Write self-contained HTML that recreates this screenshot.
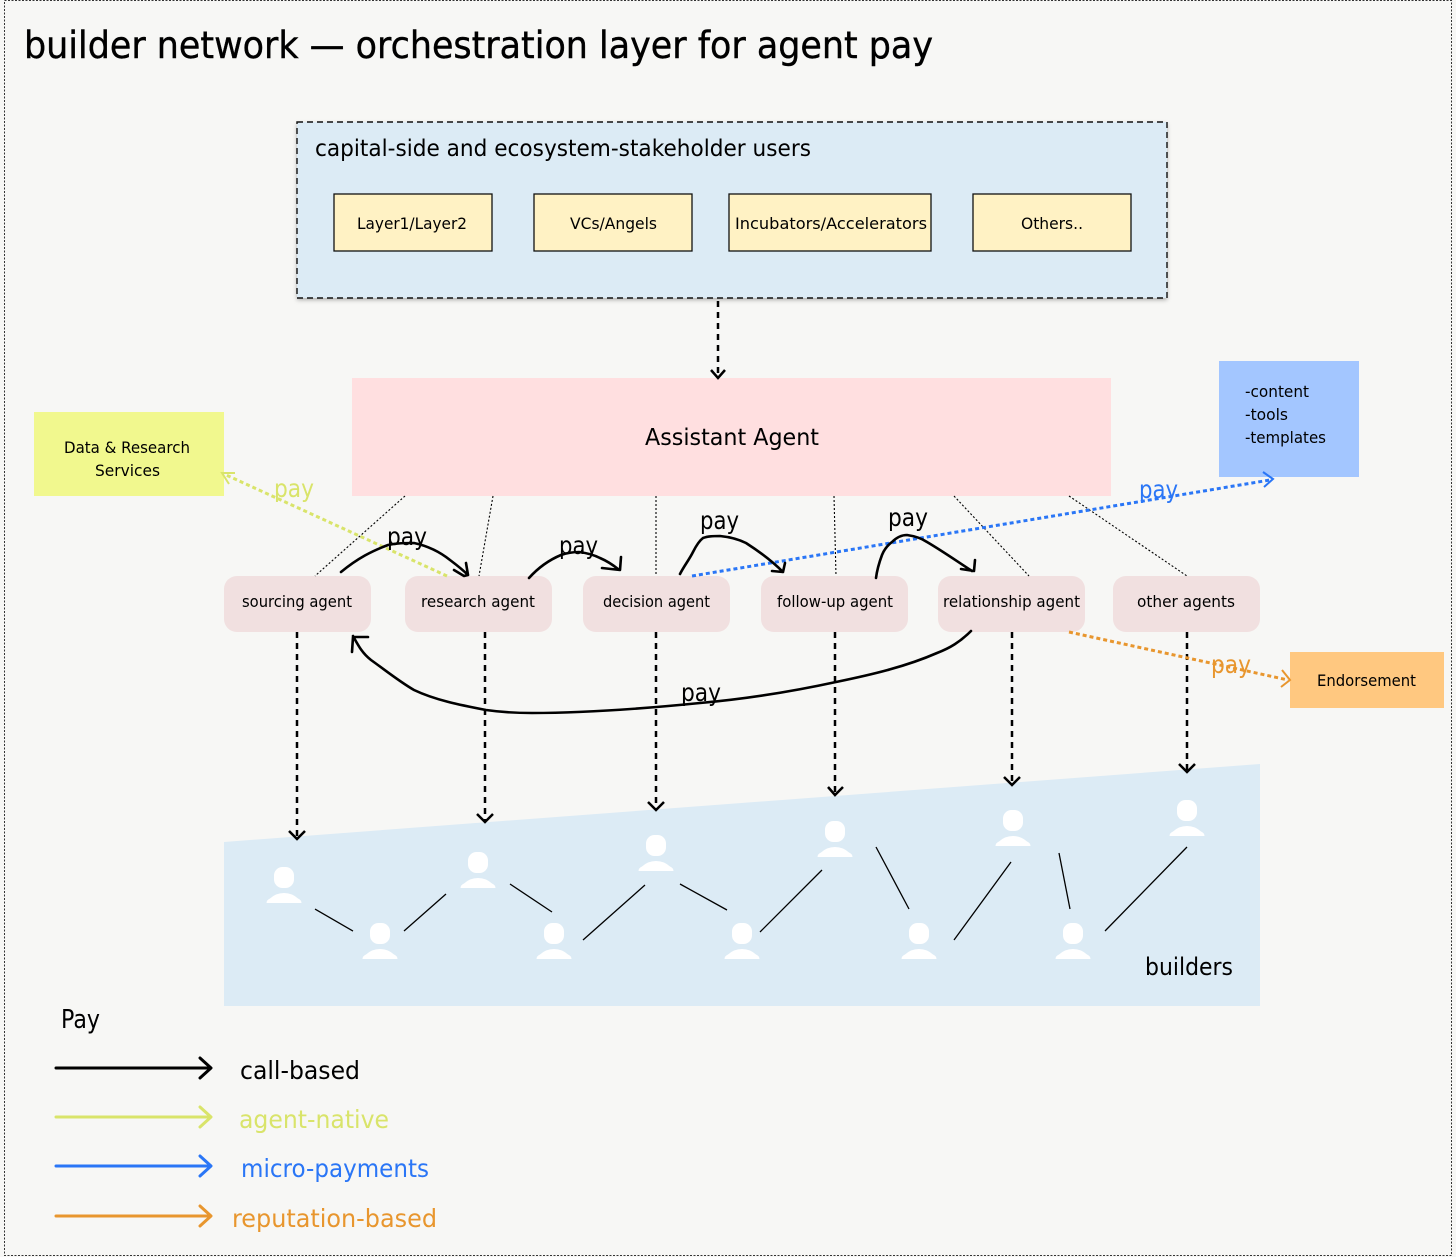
<!DOCTYPE html>
<html><head><meta charset="utf-8"><style>
html,body{margin:0;padding:0;background:#fff}
svg{display:block}
text{font-family:"DejaVu Sans","Liberation Sans",sans-serif;fill:#000}
.pay{font-size:25px}
</style></head><body>
<svg width="1456" height="1257" viewBox="0 0 1456 1257" xmlns="http://www.w3.org/2000/svg">
<defs>
<filter id="s" x="-5%" y="-5%" width="110%" height="115%"><feDropShadow dx="0" dy="2" stdDeviation="2" flood-color="#000" flood-opacity=".3"/></filter>
<g id="p"><rect x="-10" y="0" width="20" height="21" rx="8.5" fill="#fff"/><path d="M-17.5 36Q-17.5 33-14 31.500Q-8 26 0 26Q8 26 14 31.500Q17.500 33 17.500 36Z" fill="#fff"/></g>
</defs>
<rect width="1456" height="1257" fill="#f7f7f5"/>
<rect x="4.500" y="0.500" width="1447" height="1255" fill="none" stroke="#333" stroke-width="1" stroke-dasharray="2 1.500"/>
<text x="24" y="58" font-size="37" textLength="909" lengthAdjust="spacingAndGlyphs" stroke="#000" stroke-width=".4">builder network — orchestration layer for agent pay</text>

<rect x="297" y="122" width="870" height="176" fill="#dcebf5" filter="url(#s)"/>
<rect x="297" y="122" width="870" height="176" fill="none" stroke="#111" stroke-width="1.400" stroke-dasharray="6 4"/>
<text x="315" y="156" font-size="23" textLength="496" lengthAdjust="spacingAndGlyphs">capital-side and ecosystem-stakeholder users</text>
<g fill="#fff2c4" stroke="#111" stroke-width="1.300">
<rect x="334" y="194" width="158" height="57"/><rect x="534" y="194" width="158" height="57"/><rect x="729" y="194" width="202" height="57"/><rect x="973" y="194" width="158" height="57"/>
</g>
<text x="357" y="229" font-size="16" textLength="110" lengthAdjust="spacingAndGlyphs">Layer1/Layer2</text>
<text x="570" y="229" font-size="16" textLength="87" lengthAdjust="spacingAndGlyphs">VCs/Angels</text>
<text x="735" y="229" font-size="16" textLength="192" lengthAdjust="spacingAndGlyphs">Incubators/Accelerators</text>
<text x="1021" y="229" font-size="16" textLength="62" lengthAdjust="spacingAndGlyphs">Others..</text>

<rect x="352" y="378" width="759" height="118" fill="#ffdfe0"/>
<text x="645" y="445" font-size="23" textLength="174" lengthAdjust="spacingAndGlyphs">Assistant Agent</text>

<rect x="34" y="412" width="190" height="84" fill="#f1f88e"/>
<text x="64" y="453" font-size="16" textLength="126" lengthAdjust="spacingAndGlyphs">Data &amp; Research</text>
<text x="95" y="476" font-size="16" textLength="65" lengthAdjust="spacingAndGlyphs">Services</text>

<rect x="1219" y="361" width="140" height="116" fill="#a3c6ff"/>
<text x="1245" y="397" font-size="16" textLength="64" lengthAdjust="spacingAndGlyphs">-content</text>
<text x="1245" y="420" font-size="16" textLength="43" lengthAdjust="spacingAndGlyphs">-tools</text>
<text x="1245" y="443" font-size="16" textLength="81" lengthAdjust="spacingAndGlyphs">-templates</text>

<rect x="1290" y="652" width="154" height="56" fill="#ffc880"/>
<text x="1317" y="686" font-size="16" textLength="99" lengthAdjust="spacingAndGlyphs">Endorsement</text>

<polygon points="224,842 1260,764 1260,1006 224,1006" fill="#dcebf5"/>
<text x="1145" y="975" font-size="24" textLength="88" lengthAdjust="spacingAndGlyphs">builders</text>

<g fill="#f1e0e0">
<rect x="224" y="576" width="147" height="56" rx="13"/><rect x="405" y="576" width="147" height="56" rx="13"/><rect x="583" y="576" width="147" height="56" rx="13"/><rect x="761" y="576" width="147" height="56" rx="13"/><rect x="938" y="576" width="147" height="56" rx="13"/><rect x="1113" y="576" width="147" height="56" rx="13"/>
</g>
<text x="242" y="607" font-size="16" textLength="110" lengthAdjust="spacingAndGlyphs">sourcing agent</text>
<text x="421" y="607" font-size="16" textLength="114" lengthAdjust="spacingAndGlyphs">research agent</text>
<text x="603" y="607" font-size="16" textLength="107" lengthAdjust="spacingAndGlyphs">decision agent</text>
<text x="777" y="607" font-size="16" textLength="116" lengthAdjust="spacingAndGlyphs">follow-up agent</text>
<text x="943" y="607" font-size="16" textLength="137" lengthAdjust="spacingAndGlyphs">relationship agent</text>
<text x="1137" y="607" font-size="16" textLength="98" lengthAdjust="spacingAndGlyphs">other agents</text>

<g stroke="#000" stroke-width="1.100" stroke-dasharray="2 2" fill="none">
<path d="M405 496L315 576M493 496L479 576M656 496L656 576M834 496L836 576M954 496L1029 576M1069 496L1187 576"/>
</g>

<g stroke="#000" stroke-width="2.500" stroke-dasharray="6 5" fill="none">
<path d="M718 301V376M297 632V837M485 632V821M656 632V809M835 632V794M1012 632V784M1187 632V771"/>
</g>
<g stroke="#000" stroke-width="2.500" fill="none">
<path d="M711 370L718 378L725 370M289 831L297 839L305 831M477 814L485 822L493 814M648 802L656 810L664 802M828 787L835 795L843 787M1004 777L1012 785L1020 777M1179 764L1187 772L1195 764"/>
</g>

<g stroke-width="3" fill="none" stroke-dasharray="4 3">
<path d="M447 576L224 474" stroke="#d9e46a"/>
<path d="M692 576L1270 480" stroke="#2a76f6"/>
<path d="M1069 632L1288 680" stroke="#e8962e"/>
</g>
<g stroke-width="2" fill="none">
<path d="M229 484L222 473L235 473" stroke="#d9e46a"/>
<path d="M1263 472L1273 479L1264 487" stroke="#2a76f6"/>
<path d="M1282 670L1290 680L1281 687" stroke="#e8962e"/>
</g>

<g stroke="#000" stroke-width="2.600" fill="none" stroke-linecap="round" stroke-linejoin="round">
<path d="M341 572C358 558 372 551 388 545C397 543 405 543 414 543C428 546 440 552 450 560C458 566 463 570 468 575M454 570L464 576L468 575L466 563"/>
<path d="M529 578C538 568 549 560 561 555C567 553 573 552 579 552C587 553 594 555 600 558C607 561 613 565 618 569M602 568L620 570L621 557"/>
<path d="M680 574C684 566 689 560 693 552C696 546 699 541 703 538C708 536 714 536 720 536C730 537 738 539 746 543C760 552 772 561 783 572M772 571L783 572L785 563"/>
<path d="M876 578C877 570 879 563 882 555C884 550 888 545 892 542C897 537 902 535 907 535C914 536 921 538 927 542C944 552 958 562 972 571M961 569L974 571L975 560"/>
<path d="M971 631C960 642 950 648 937 653C905 667 870 675 836 682C790 692 745 699 700 703C650 708 590 713 532 713C515 713 500 712 486 710C460 705 435 700 414 690C400 682 385 670 371 660C362 653 358 645 353 636M352 652L353 637L368 637"/>
</g>

<text x="387" y="545" class="pay" textLength="40" lengthAdjust="spacingAndGlyphs">pay</text>
<text x="559" y="554" class="pay" textLength="39" lengthAdjust="spacingAndGlyphs">pay</text>
<text x="700" y="529" class="pay" textLength="39" lengthAdjust="spacingAndGlyphs">pay</text>
<text x="888" y="526" class="pay" textLength="40" lengthAdjust="spacingAndGlyphs">pay</text>
<text x="681" y="701" class="pay" textLength="40" lengthAdjust="spacingAndGlyphs">pay</text>
<text x="274" y="497" class="pay" textLength="40" lengthAdjust="spacingAndGlyphs" style="fill:#d9e46a">pay</text>
<text x="1139" y="498" class="pay" textLength="39" lengthAdjust="spacingAndGlyphs" style="fill:#2a76f6">pay</text>
<text x="1211" y="673" class="pay" textLength="40" lengthAdjust="spacingAndGlyphs" style="fill:#e8962e">pay</text>

<use href="#p" x="284" y="867"/><use href="#p" x="380" y="923"/><use href="#p" x="478" y="852"/><use href="#p" x="554" y="923"/><use href="#p" x="656" y="835"/><use href="#p" x="742" y="923"/><use href="#p" x="835" y="821"/><use href="#p" x="919" y="923"/><use href="#p" x="1013" y="810"/><use href="#p" x="1073" y="923"/><use href="#p" x="1187" y="800"/>
<path d="M315 909L353 931M404 931L446 894M510 884L552 912M583 940L645 885M680 884L727 910M760 932L822 870M876 847L909 909M954 940L1011 862M1059 853L1070 909M1105 931L1187 847" stroke="#000" stroke-width="1.300" fill="none"/>

<text x="61" y="1028" font-size="26" textLength="39" lengthAdjust="spacingAndGlyphs">Pay</text>
<g fill="none" stroke-linecap="round" stroke-linejoin="round">
<path d="M56 1068H210M200 1058L211 1068L200 1078" stroke="#000" stroke-width="3"/>
<path d="M56 1117H210M200 1107L211 1117L200 1127" stroke="#d9e46a" stroke-width="3"/>
<path d="M56 1166H210M200 1156L211 1166L200 1176" stroke="#2a76f6" stroke-width="3"/>
<path d="M56 1216H210M200 1206L211 1216L200 1226" stroke="#e8962e" stroke-width="3"/>
</g>
<text x="240" y="1079" font-size="25" textLength="120" lengthAdjust="spacingAndGlyphs">call-based</text>
<text x="239" y="1128" font-size="25" textLength="150" lengthAdjust="spacingAndGlyphs" style="fill:#d9e46a">agent-native</text>
<text x="241" y="1177" font-size="25" textLength="188" lengthAdjust="spacingAndGlyphs" style="fill:#2a76f6">micro-payments</text>
<text x="232" y="1227" font-size="25" textLength="205" lengthAdjust="spacingAndGlyphs" style="fill:#e8962e">reputation-based</text>
</svg>
</body></html>
